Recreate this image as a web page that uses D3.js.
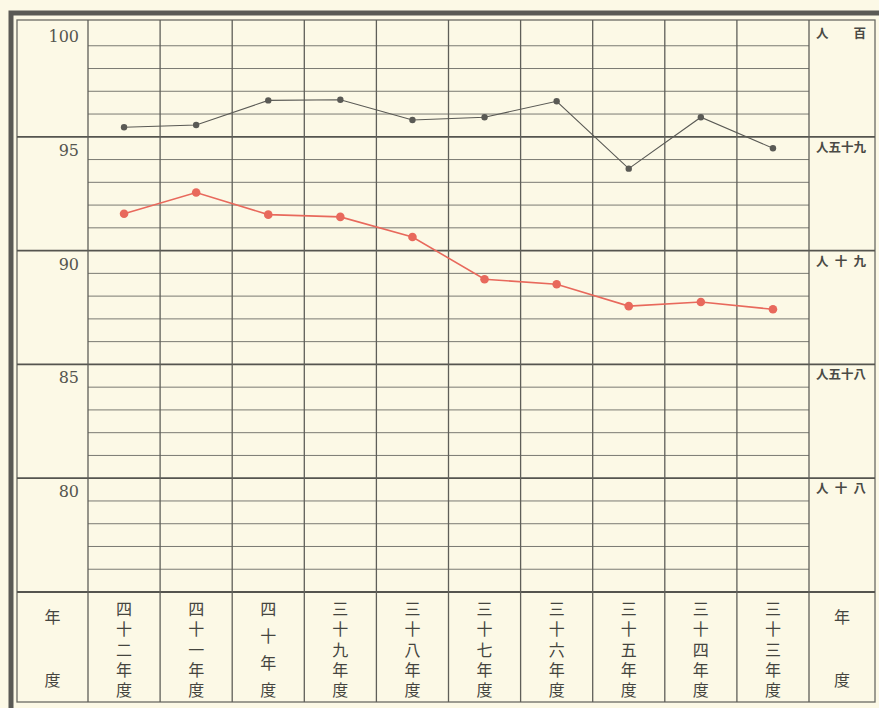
<!DOCTYPE html>
<html>
<head>
<meta charset="utf-8">
<script src="https://cdn.jsdelivr.net/npm/d3@7"></script>
<style>
  body { margin: 0; background: #fcf9e6; }
  svg { display: block; }
</style>
</head>
<body>
<div id="chart"></div>
<script>
// Years, read right-to-left in the original (newest on the left)
var years = ["四十二年度", "四十一年度", "四十年度", "三十九年度", "三十八年度",
             "三十七年度", "三十六年度", "三十五年度", "三十四年度", "三十三年度"];

// Upper (black) series and lower (red) series
var upper = [95.42, 95.52, 96.6, 96.63, 95.74, 95.86, 96.56, 93.6, 95.86, 94.5];
var lower = [91.62, 92.55, 91.58, 91.48, 90.6, 88.74, 88.52, 87.56, 87.74, 87.42];

// Major ticks, with their left numeric labels and right-hand Japanese labels
var major_ticks = [100, 95, 90, 85, 80];
var right_labels = ["人百", "人五十九", "人十九", "人五十八", "人十八"];
var minor_ticks = d3.range(76, 100);

const width = 879, height = 708;
const frame = {left: 17, top: 20, right: 875, bottom: 702};
const plot = {left: 88, right: 809, top: 23, bottom: 592};

var svg = d3.select("#chart").append("svg")
    .attr("width", width)
    .attr("height", height);

svg.append("rect")
    .attr("width", width).attr("height", height)
    .attr("fill", "#fcf9e6");

var x_scale = d3.scaleBand()
    .domain(years)
    .range([plot.left, plot.right])
    .padding(0);

var y_scale = d3.scaleLinear()
    .domain([75, 100])
    .range([plot.bottom, plot.top]);

// Outer thick border (left and top) and thin inner frame
svg.append("path")
    .attr("d", "M11,708 V13 H879")
    .attr("fill", "none")
    .attr("stroke", "#5a5a55")
    .attr("stroke-width", 5);

svg.append("rect")
    .attr("x", frame.left).attr("y", frame.top)
    .attr("width", frame.right - frame.left)
    .attr("height", frame.bottom - frame.top)
    .attr("fill", "none")
    .attr("stroke", "#6a6a64")
    .attr("stroke-width", 1.3);

var grid = svg.append("g").attr("class", "grid");

// Minor horizontal lines, only inside the plot
grid.selectAll("line.minor")
    .data(minor_ticks.filter((d) => d % 5 != 0))
    .enter().append("line")
    .attr("class", "minor")
    .attr("x1", plot.left).attr("x2", plot.right)
    .attr("y1", (d) => y_scale(d)).attr("y2", (d) => y_scale(d))
    .attr("stroke", "#7a7a72")
    .attr("stroke-width", 1);

// Major horizontal lines run across the whole frame
grid.selectAll("line.major")
    .data(major_ticks.filter((d) => d < 100).concat([75]))
    .enter().append("line")
    .attr("class", "major")
    .attr("x1", frame.left).attr("x2", frame.right)
    .attr("y1", (d) => y_scale(d)).attr("y2", (d) => y_scale(d))
    .attr("stroke", "#55554f")
    .attr("stroke-width", 1.8);

// Vertical column lines through the plot and the year row
var col_edges = years.map((d) => x_scale(d)).concat([plot.right]);
grid.selectAll("line.col")
    .data(col_edges)
    .enter().append("line")
    .attr("class", "col")
    .attr("x1", (d) => d).attr("x2", (d) => d)
    .attr("y1", frame.top).attr("y2", frame.bottom)
    .attr("stroke", "#5f5f59")
    .attr("stroke-width", 1.3);

// Left numeric labels, sitting just under each major line
svg.append("g").selectAll("text")
    .data(major_ticks)
    .enter().append("text")
    .attr("x", 79)
    .attr("y", (d) => y_scale(d) + 19)
    .attr("text-anchor", "end")
    .attr("font-family", "DejaVu Serif, Liberation Serif, serif")
    .attr("font-size", 16)
    .attr("fill", "#55554f")
    .text((d) => d);

const cjk = "Noto Sans CJK JP, Noto Sans CJK SC, sans-serif";

// Right-hand labels: one text each, stretched over the column width
svg.append("g").selectAll("text")
    .data(major_ticks)
    .enter().append("text")
    .attr("x", 816)
    .attr("y", (d) => y_scale(d) + 15)
    .attr("font-family", cjk)
    .attr("font-size", 12.5)
    .attr("font-weight", "bold")
    .attr("fill", "#4a4a45")
    .attr("textLength", 50)
    .attr("lengthAdjust", "spacing")
    .text((d, i) => right_labels[i]);

// Year labels, written vertically, spread over the row height
const year_fs = 16;
svg.append("g").selectAll("text")
    .data(years)
    .enter().append("text")
    .attr("x", (d) => x_scale(d) + x_scale.bandwidth() / 2)
    .attr("y", 601)
    .attr("writing-mode", "vertical-rl")
    .style("text-orientation", "upright")
    .attr("font-family", cjk)
    .attr("font-size", year_fs)
    .attr("fill", "#45453f")
    .attr("letter-spacing", (d) => (97 - d.length * year_fs) / (d.length - 1))
    .text((d) => d);

// "年度" in the side columns
var side_g = svg.append("g");
[(frame.left + plot.left) / 2, (plot.right + frame.right) / 2].forEach(function (cx) {
    side_g.selectAll(null)
        .data(["年", "度"])
        .enter().append("text")
        .attr("x", cx)
        .attr("y", (c, j) => j == 0 ? 617 : 680)
        .attr("dy", "0.36em")
        .attr("text-anchor", "middle")
        .attr("font-family", cjk)
        .attr("font-size", 16)
        .attr("fill", "#45453f")
        .text((c) => c);
});

// Lines and points
var line = d3.line()
    .x((d, i) => x_scale(years[i]) + x_scale.bandwidth() / 2)
    .y((d) => y_scale(d));

function draw_series(values, colour, line_w, r) {
    var g = svg.append("g");
    g.append("path")
        .datum(values)
        .attr("d", line)
        .attr("fill", "none")
        .attr("stroke", colour)
        .attr("stroke-width", line_w);
    g.selectAll("circle")
        .data(values)
        .enter().append("circle")
        .attr("cx", (d, i) => x_scale(years[i]) + x_scale.bandwidth() / 2)
        .attr("cy", (d) => y_scale(d))
        .attr("r", r)
        .attr("fill", colour);
}

draw_series(upper, "#5a5a55", 1.1, 3.2);
draw_series(lower, "#e8695c", 1.6, 4.3);
</script>
</body>
</html>
